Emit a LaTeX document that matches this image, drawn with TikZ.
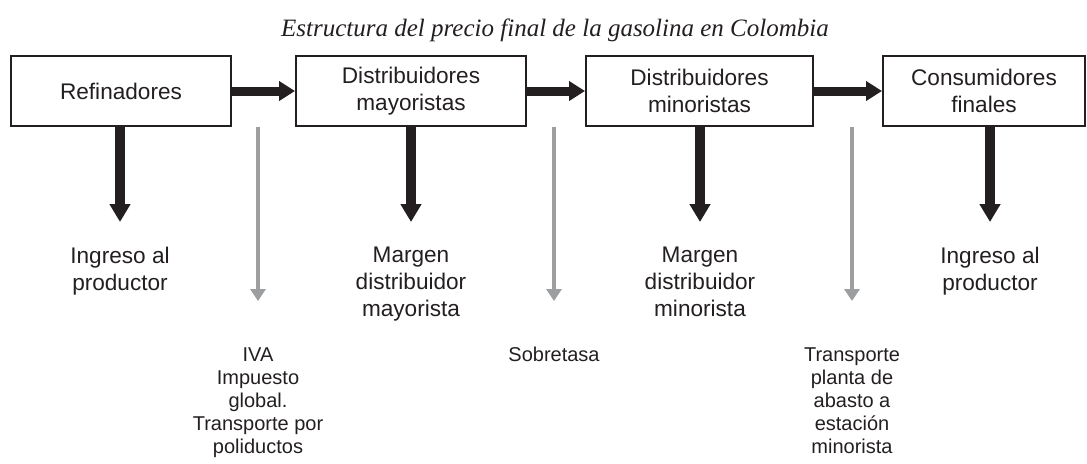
\documentclass[tikz,border=0pt]{standalone}
\usepackage{fontspec}
\setmainfont{Liberation Sans}
\newfontfamily\titlefont{Liberation Serif}
\usetikzlibrary{arrows.meta}
\definecolor{ink}{RGB}{35,31,32}
\definecolor{lightarrow}{RGB}{157,158,160}

\begin{document}
\begin{tikzpicture}[x=0.5pt,y=-0.5pt,
  agent/.style={draw=ink,line width=1pt,fill=white,minimum height=35pt,align=center,inner sep=0pt,text=ink,font=\fontsize{11.3}{13.5}\selectfont},
  share/.style={align=center,inner sep=0pt,anchor=north,text=ink,font=\fontsize{11.3}{13.5}\selectfont},
  tax/.style={align=center,inner sep=0pt,anchor=north,text=ink,font=\fontsize{10}{11.5}\selectfont},
  flow/.style={ink,line width=4.5pt,-{Triangle[width=9.5pt,length=8pt]}},
  drop/.style={ink,line width=5pt,-{Triangle[width=10pt,length=9pt]},shorten >=12.5pt},
  levy/.style={lightarrow,line width=2pt,-{Triangle[width=7.5pt,length=6pt]},shorten >=23pt}]
\useasboundingbox (0,0) rectangle (1087,463);
\node[text=ink,font=\titlefont\itshape\fontsize{12.5}{14}\selectfont] (title) at (555,30) {Estructura del precio final de la gasolina en Colombia};
\node[agent,minimum width=110pt] (ref) at (121,91) {Refinadores};
\node[agent,minimum width=115pt] (may) at (411,91) {Distribuidores\\mayoristas};
\node[agent,minimum width=113.5pt] (min) at (699.5,91) {Distribuidores\\minoristas};
\node[agent,minimum width=101pt] (con) at (984,91) {Consumidores\\finales};
\node[share] (ing1) at (120,247) {Ingreso al\\productor};
\node[share] (mar1) at (411,247) {Margen\\distribuidor\\mayorista};
\node[share] (mar2) at (700,247) {Margen\\distribuidor\\minorista};
\node[share] (ing2) at (990,247) {Ingreso al\\productor};
\node[tax] (iva) at (258,347) {IVA\\Impuesto\\global.\\Transporte por\\poliductos};
\node[tax] (sob) at (554,347) {Sobretasa};
\node[tax] (tra) at (852,347) {Transporte\\planta de\\abasto a\\estación\\minorista};
\draw[flow] (ref) -- (may);
\draw[flow] (may) -- (min);
\draw[flow] (min) -- (con);
\draw[drop] (ing1.north |- ref.south) -- (ing1.north);
\draw[drop] (mar1.north |- may.south) -- (mar1.north);
\draw[drop] (mar2.north |- min.south) -- (mar2.north);
\draw[drop] (ing2.north |- con.south) -- (ing2.north);
\draw[levy] (iva.north |- ref.south) -- (iva.north);
\draw[levy] (sob.north |- may.south) -- (sob.north);
\draw[levy] (tra.north |- min.south) -- (tra.north);
\end{tikzpicture}
\end{document}
